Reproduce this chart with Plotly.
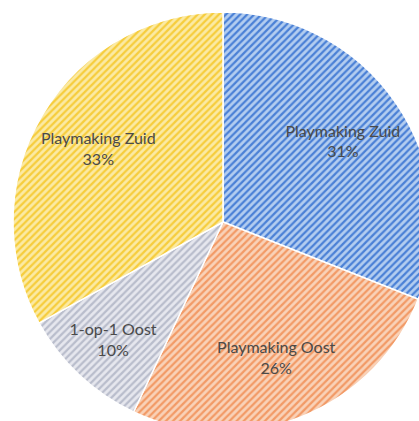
import plotly.graph_objects as go

names = ["Playmaking Zuid", "Playmaking Oost", "1-op-1 Oost", "Playmaking Zuid"]
ids = ["pz1", "po", "1o", "pz2"]
values = [31, 26, 10, 33]
fg_colors = ["#4a80d6", "#f29a66", "#b9bdcc", "#f6cd3c"]
bg_colors = ["#b3cdf0", "#f9d2b8", "#e6e7ee", "#fbeaa4"]

common = dict(
    labels=ids,
    values=values,
    sort=False,
    direction="clockwise",
    rotation=0,
    showlegend=False,
    hoverinfo="none",
)

# filled slices (no text)
fig = go.Figure(go.Pie(
    **common,
    textinfo="none",
    marker=dict(
        colors=bg_colors,
        line=dict(color="white", width=1.5),
        pattern=dict(shape="/", fgcolor=fg_colors, bgcolor=bg_colors,
                     fillmode="replace", size=5, solidity=0.45),
    ),
))

# transparent ring carrying the labels further out
fig.add_trace(go.Pie(
    **common,
    hole=0.38,
    text=names,
    texttemplate="%{text}<br>%{percent:.0%}",
    textposition="inside",
    insidetextorientation="horizontal",
    insidetextfont=dict(family="Lato", size=16, color="#4a4a4a"),
    marker=dict(colors=["rgba(0,0,0,0)"] * len(values), line=dict(width=0)),
))

fig.update_layout(
    width=433, height=432,
    margin=dict(l=13, t=12, r=0, b=0),
    paper_bgcolor="white",
    showlegend=False,
)

fig.write_html(
    "out.html",
    config={"displayModeBar": False},
    post_script="document.body.style.margin='0';document.body.style.overflow='hidden';document.documentElement.style.overflow='hidden';",
)
